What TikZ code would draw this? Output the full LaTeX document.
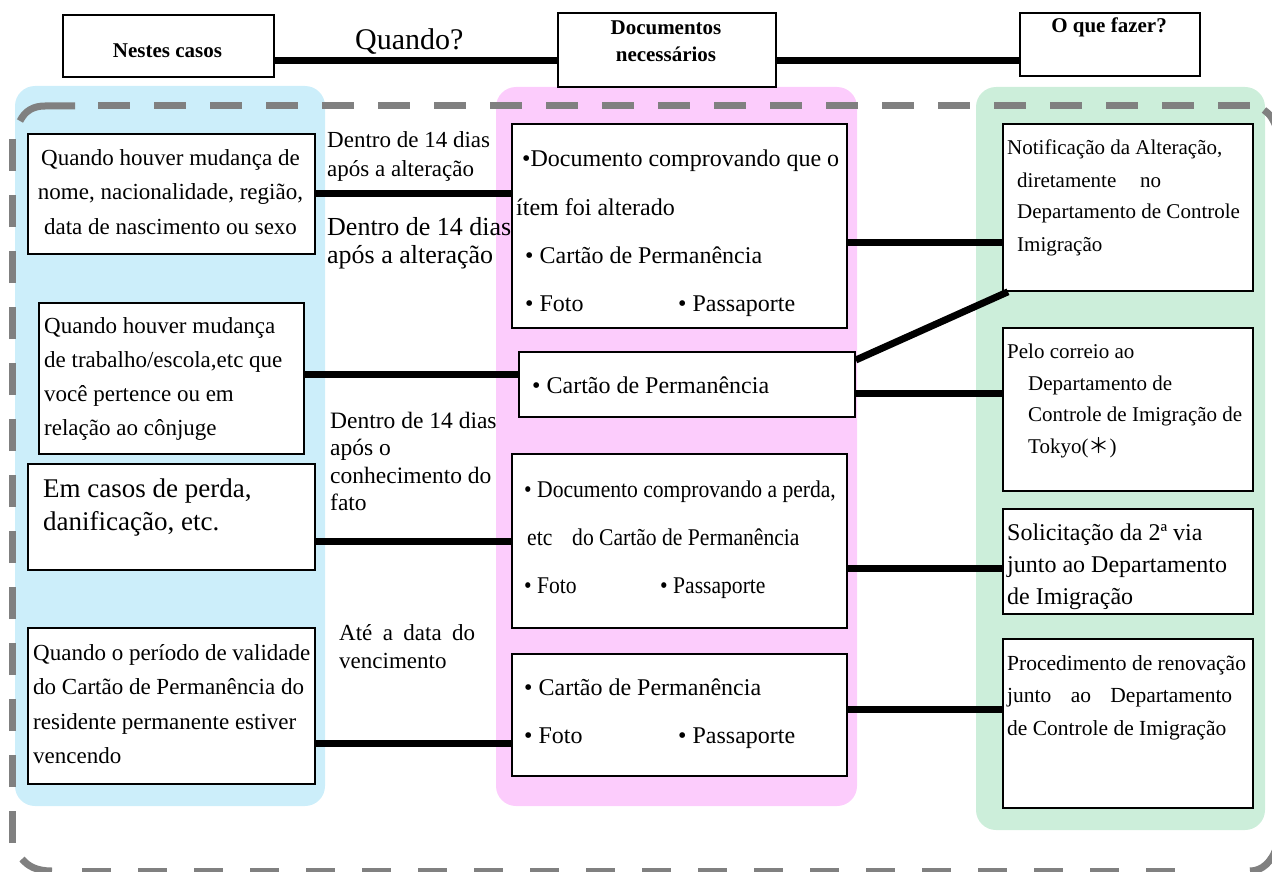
\documentclass[tikz,border=0pt]{standalone}
\usepackage{fontspec}
\usepackage{graphicx}
\setmainfont{Liberation Serif}
\newfontfamily\cjkfont{Noto Sans CJK JP}
\definecolor{pblue}{RGB}{204,238,250}
\definecolor{ppink}{RGB}{252,204,252}
\definecolor{pgreen}{RGB}{204,238,218}
\definecolor{dgray}{RGB}{128,128,128}
\tikzset{
  panel/.style={rounded corners=20pt},
  box/.style={draw=black, line width=1.8pt, fill=white, inner sep=0pt, anchor=north west},
  conn/.style={draw=black, line width=7pt},
  frame/.style={draw=dgray, line width=7pt},
  framedash/.style={frame, dash pattern=on 32pt off 24pt},
  txt/.style={inner sep=0pt, anchor=base west},
  ctxt/.style={inner sep=0pt, anchor=base},
  hfont/.style={font=\bfseries\fontsize{21}{27}\selectfont},
  mfont/.style={font=\fontsize{24}{30}\selectfont},
  m3font/.style={font=\fontsize{24}{30}\selectfont},
  rfont/.style={font=\fontsize{21}{32}\selectfont}
}
\begin{document}
\begin{tikzpicture}[x=1pt,y=-1pt]
\useasboundingbox (0,0) rectangle (1272,872);
\clip (0,0) rectangle (1272,872);
% coloured panels
\fill[pblue, panel] (15,86) rectangle (325,806);
\fill[ppink, panel] (496,87) rectangle (857,806);
\fill[pgreen, panel] (976,87) rectangle (1265,830);

% dashed frame (drawn piece by piece)
\draw[framedash] (98,106) -- (1250,106);
\draw[frame] (20,121) .. controls (25,111) and (33,106) .. (45,106) -- (75,106);
\draw[framedash] (12,843) -- (12,138);
\draw[frame] (22,859) .. controls (28,866) and (36,871) .. (52,871);
\draw[frame, dash pattern=on 29pt off 27pt] (82,871) -- (1200,871);
\draw[frame] (1250,871) .. controls (1262,871) and (1272,862) .. (1277,846);
\draw[frame] (1264,110) .. controls (1270,114) and (1274,120) .. (1277,130);

% header boxes
\node[box, minimum width=211pt, minimum height=62pt] (H1) at (62,14) {};
\node[box, minimum width=218pt, minimum height=74pt] (H2) at (557,12) {};
\node[box, minimum width=180pt, minimum height=63pt] (H3) at (1019,12) {};
\node[ctxt, hfont] (H1t) at (167.5,58) {Nestes casos};
\node[ctxt, hfont] (H2t) at (666,35) {\parbox[t]{200pt}{\centering Documentos\\necessários}};
\node[ctxt, hfont] (H3t) at (1109,33) {O que fazer?};
\coordinate (hy) at (0,61);
\draw[conn] (H1.east |- hy) -- (H2.west |- hy);
\draw[conn] (H2.east |- hy) -- (H3.west |- hy);
\node[txt, font=\fontsize{30}{36}\selectfont] (Q) at (355,50) {Quando?};

% left boxes
\node[box, minimum width=287pt, minimum height=120pt] (L1) at (27,133) {};
\node[box, minimum width=265pt, minimum height=151pt] (L2) at (38,302) {};
\node[box, minimum width=287pt, minimum height=106pt] (L3) at (27,463) {};
\node[box, minimum width=287pt, minimum height=156pt] (L4) at (27,627) {};

% middle boxes
\node[box, minimum width=335pt, minimum height=204pt] (M1) at (511,123) {};
\node[box, minimum width=336pt, minimum height=65pt] (M2) at (518,351) {};
\node[box, minimum width=335pt, minimum height=174pt] (M3) at (511,453) {};
\node[box, minimum width=335pt, minimum height=122pt] (M4) at (511,653) {};

% right boxes
\node[box, minimum width=250pt, minimum height=167pt] (R1) at (1002,123) {};
\node[box, minimum width=250pt, minimum height=163pt] (R2) at (1002,327) {};
\node[box, minimum width=250pt, minimum height=105pt] (R3) at (1002,508) {};
\node[box, minimum width=250pt, minimum height=169pt] (R4) at (1002,638) {};

% connectors
\coordinate (c1) at (0,193);
\coordinate (c2) at (0,242);
\coordinate (c3) at (0,374);
\coordinate (c4) at (0,393);
\coordinate (c5) at (0,541);
\coordinate (c6) at (0,568);
\coordinate (c7) at (0,743);
\coordinate (c8) at (0,709);
\draw[conn] (L1.east |- c1) -- (M1.west |- c1);
\draw[conn] (M1.east |- c2) -- (R1.west |- c2);
\draw[conn] ([yshift=-9pt]M2.north east) -- ([xshift=6pt]R1.south west);
\draw[conn] (L2.east |- c3) -- (M2.west |- c3);
\draw[conn] (M2.east |- c4) -- (R2.west |- c4);
\draw[conn] (L3.east |- c5) -- (M3.west |- c5);
\draw[conn] (M3.east |- c6) -- (R3.west |- c6);
\draw[conn] (L4.east |- c7) -- (M4.west |- c7);
\draw[conn] (M4.east |- c8) -- (R4.west |- c8);

% left texts
\node[ctxt, font=\fontsize{23}{35}\selectfont] (L1t) at (170.5,165) {\parbox[t]{287pt}{\centering Quando houver mudança de\\nome, nacionalidade, região,\\data de nascimento ou sexo}};
\node[txt, font=\fontsize{23}{34}\selectfont] (L2t) at (44,333) {\parbox[t]{258pt}{\raggedright Quando houver mudança\\de trabalho/escola,etc que\\você pertence ou em\\relação ao cônjuge}};
\node[txt, font=\fontsize{27}{33}\selectfont] (L3t) at (43,497) {\parbox[t]{268pt}{\raggedright Em casos de perda,\\danificação, etc.}};
\node[txt, font=\fontsize{23}{34.5}\selectfont] (L4t) at (33,660) {\parbox[t]{280pt}{\raggedright Quando o período de validade\\do Cartão de Permanência do\\residente permanente estiver\\vencendo}};

% time labels
\node[txt, font=\fontsize{23}{29}\selectfont] (T1) at (327,148) {\parbox[t]{200pt}{\raggedright Dentro de 14 dias\\após a alteração}};
\node[txt, font=\fontsize{26}{28}\selectfont] (T2) at (327,235) {\parbox[t]{200pt}{\raggedright Dentro de 14 dias\\após a alteração}};
\node[txt, font=\fontsize{23.5}{27.5}\selectfont] (T3) at (330,428) {\parbox[t]{200pt}{\raggedright Dentro de 14 dias\\após o\\conhecimento do\\fato}};
\node[txt, font=\fontsize{23}{28}\selectfont] (T4) at (339,640) {\parbox[t]{200pt}{\raggedright \makebox[136pt][s]{Até a data do}\\vencimento}};

% middle texts
\node[txt, mfont] (M1a) at (522,167) {•Documento comprovando que o};
\node[txt, mfont] (M1b) at (516,215) {ítem foi alterado};
\node[txt, mfont] (M1c) at (525,263) {• Cartão de Permanência};
\node[txt, mfont] (M1d) at (525,311) {• Foto};
\node[txt, mfont] (M1e) at (678,311) {• Passaporte};
\node[txt, mfont] (M2a) at (532,393) {• Cartão de Permanência};
\node[txt, m3font] (M3a) at (524,497) {\scalebox{0.9}[1]{• Documento comprovando a perda,}};
\node[txt, m3font] (M3b) at (527,545) {\scalebox{0.9}[1]{etc}};
\node[txt, m3font] (M3c) at (572,545) {\scalebox{0.9}[1]{do Cartão de Permanência}};
\node[txt, m3font] (M3d) at (524,593) {\scalebox{0.9}[1]{• Foto}};
\node[txt, m3font] (M3e) at (660,593) {\scalebox{0.9}[1]{• Passaporte}};
\node[txt, mfont] (M4a) at (524,695) {• Cartão de Permanência};
\node[txt, mfont] (M4b) at (524,743) {• Foto};
\node[txt, mfont] (M4c) at (678,743) {• Passaporte};

% right texts
\node[txt, rfont] (R1a) at (1007,155) {Notificação da Alteração,};
\node[txt, rfont] (R1b) at (1017,187) {\parbox[t]{230pt}{\raggedright \makebox[144pt][s]{diretamente no}\\Departamento de Controle\\Imigração}};
\node[txt, rfont] (R2a) at (1007,358) {Pelo correio ao};
\node[txt, font=\fontsize{21}{31.5}\selectfont] (R2b) at (1028,390) {\parbox[t]{222pt}{\raggedright Departamento de\\Controle de Imigração de\\Tokyo({\cjkfont ＊})}};
\node[txt, font=\fontsize{24}{32}\selectfont] (R3t) at (1007,540) {\parbox[t]{244pt}{\raggedright Solicitação da 2ª via\\junto ao Departamento\\de Imigração}};
\node[txt, font=\fontsize{21.5}{32.5}\selectfont] (R4t) at (1007,670) {\parbox[t]{244pt}{\raggedright Procedimento de renovação\\\makebox[225pt][s]{junto ao Departamento}\\de Controle de Imigração}};
\end{tikzpicture}
\end{document}
